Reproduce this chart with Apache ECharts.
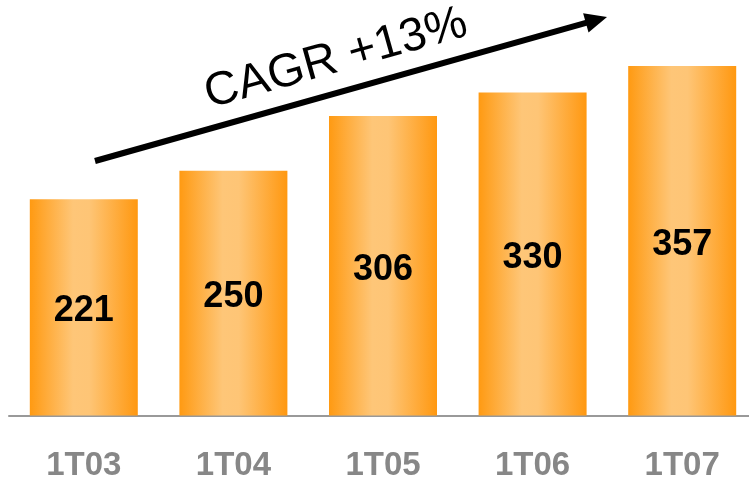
<!DOCTYPE html>
<html>
<head>
<meta charset="utf-8">
<script src="https://cdn.jsdelivr.net/npm/echarts@6/dist/echarts.min.js"></script>
<style>html,body{margin:0;padding:0;background:#fff}#c{width:749px;height:478px}</style>
</head>
<body>
<div id="c"></div>
<script>
const categories = ['1T03', '1T04', '1T05', '1T06', '1T07'];
const values = [221, 250, 306, 330, 357];
const annotation = 'CAGR +13%';

const chart = echarts.init(document.getElementById('c'), null, {renderer: 'canvas'});
const grad = new echarts.graphic.LinearGradient(0, 0, 1, 0, [
  {offset: 0, color: '#FF9A12'},
  {offset: 0.4, color: '#FEC678'},
  {offset: 0.55, color: '#FEC576'},
  {offset: 1, color: '#FF9810'}
]);
const ang = Math.atan2(161 - 17, 607 - 95);
const hx = 607, hy = 17, hl = 22, hw = 10;
const bx = hx - hl * Math.cos(ang), by = hy + hl * Math.sin(ang);
const px = Math.sin(ang), py = Math.cos(ang);
chart.setOption({
  animation: false,
  grid: {left: 9, right: -8, top: 24, bottom: 62.5, outerBoundsMode: 'none', containLabel: false},
  xAxis: {
    type: 'category', data: categories,
    axisLine: {lineStyle: {color: '#999999', width: 2}},
    axisTick: {show: false},
    axisLabel: {color: '#878787', fontSize: 33, fontWeight: 'bold', fontFamily: 'Liberation Sans', margin: 34}
  },
  yAxis: {type: 'value', min: 0, max: 400, show: false, splitLine: {show: false}},
  series: [{
    type: 'bar', data: values, barWidth: 108,
    itemStyle: {color: grad},
    label: {show: true, position: 'inside', offset: [0, 4], color: '#000', fontSize: 36, fontWeight: 'bold', fontFamily: 'Liberation Sans'}
  }],
  graphic: [
    {type: 'line', shape: {x1: 95, y1: 161, x2: bx + 2 * Math.cos(ang), y2: by - 2 * Math.sin(ang)}, style: {stroke: '#000', lineWidth: 6}},
    {type: 'polygon', shape: {points: [[hx, hy], [bx + px * hw, by + py * hw], [bx - px * hw, by - py * hw]]}, style: {fill: '#000'}},
    {type: 'text', x: 336, y: 59, rotation: ang, style: {text: annotation, fontSize: 47, fontFamily: 'Liberation Sans', fill: '#000', align: 'center', verticalAlign: 'middle'}}
  ]
});
</script>
</body>
</html>
